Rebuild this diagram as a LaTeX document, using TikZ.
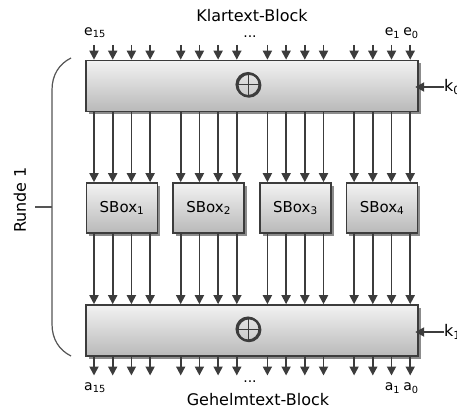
\documentclass[tikz,border=0pt]{standalone}
\usepackage{fontspec}
\setmainfont{DejaVu Sans}
\usetikzlibrary{arrows.meta,shadows,calc}
\definecolor{wirec}{HTML}{3C3C3C}
\definecolor{bracec}{HTML}{555555}
\begin{document}
\begin{tikzpicture}[x=1pt,y=-1pt,
  wire/.style={draw=wirec, line width=1.8pt, -{Triangle[width=9pt,length=9pt]}},
  block/.style={draw=wirec, line width=1.6pt, top color=gray!10, bottom color=gray!55,
    drop shadow={shadow xshift=2.6pt, shadow yshift=-2.6pt, fill=black!45, opacity=1},
    inner sep=0pt},
  xorbox/.style={block, minimum width=332pt, minimum height=51pt},
  sboxnode/.style={block, minimum width=71pt, minimum height=50pt,
    font=\fontsize{15}{18}\selectfont},
  title/.style={font=\fontsize{16}{19}\selectfont, inner sep=0pt},
  bitlabel/.style={font=\fontsize{14}{16}\selectfont, inner sep=0pt},
  xorring/.style={circle, draw=wirec, line width=2pt, minimum size=23pt, inner sep=0pt},
]
\useasboundingbox (0,0) rectangle (457,409);

% titles
\node[title] (plain) at (252,16) {Klartext-Block};
\node[title] (cipher) at (258,399.5) {Gehelmtext-Block};

% round blocks
\node[xorbox] (xor1) at (252,86) {};
\node[xorbox] (xor2) at (252,330.5) {};

% XOR symbols
\foreach \b/\cy in {1/84.5, 2/329} {
  \draw[wirec, line width=2.2pt] (248.9,\cy+0.7) circle (11.4);
  \node[xorring] (op\b) at (248,\cy) {};
  \draw[wirec, line width=0.9pt] (op\b.north) -- (op\b.south) (op\b.west) -- (op\b.east);
}

% substitution boxes
\foreach \j in {1,...,4} {
  \pgfmathsetmacro\sx{122+86.7*(\j-1)}
  \node[sboxnode] (s\j) at (\sx,208) {SBox\textsubscript{\j}};
}

% bit wires
\foreach \j in {1,...,4} {
  \foreach \k in {0,...,3} {
    \pgfmathsetmacro\xx{94+86.7*(\j-1)+18.7*\k}
    \coordinate (in\j\k) at (\xx,45);
    \coordinate (out\j\k) at (\xx,375.5);
    \draw[wire] (in\j\k) -- (in\j\k |- xor1.north);
    \draw[wire] (in\j\k |- xor1.south) -- (in\j\k |- s\j.north);
    \draw[wire] (in\j\k |- s\j.south) -- (in\j\k |- xor2.north);
    \draw[wire] (out\j\k |- xor2.south) -- (out\j\k);
  }
}

% bit labels
\node[bitlabel] (e15) at (95,33) {e\textsubscript{15}};
\node[bitlabel] (e1) at (392.5,33) {e\textsubscript{1}};
\node[bitlabel] (e0) at (411,33) {e\textsubscript{0}};
\node[bitlabel] (edots) at (250,37) {...};
\node[bitlabel] (a15) at (95,388) {a\textsubscript{15}};
\node[bitlabel] (a1) at (392.5,388) {a\textsubscript{1}};
\node[bitlabel] (a0) at (411,388) {a\textsubscript{0}};
\node[bitlabel] (adots) at (250,382) {...};

% round keys
\node[title, anchor=west] (k0) at (444,87) {k\textsubscript{0}};
\node[title, anchor=west] (k1) at (444,332) {k\textsubscript{1}};
\draw[wire, shorten >=-3.6pt] (k0.west) -- (k0.west -| xor1.east);
\draw[wire, shorten >=-3.6pt] (k1.west) -- (k1.west -| xor2.east);

% round brace
\draw[bracec, line width=1.2pt]
  (71,58) .. controls (59,64) and (52,75) .. (52,90) -- (52,324)
  .. controls (52,339) and (59,350) .. (71,356);
\draw[bracec, line width=1.2pt] (35,207) -- (52,207);
\node[title, rotate=90] (round) at (20,200) {Runde 1};
\end{tikzpicture}
\end{document}
